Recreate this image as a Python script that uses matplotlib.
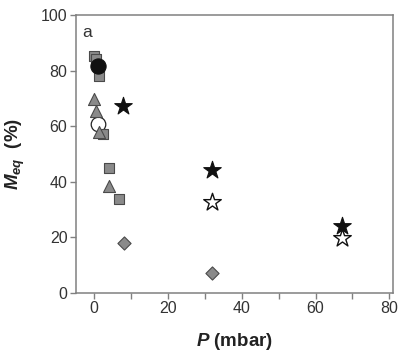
import matplotlib
matplotlib.use("Agg")
import matplotlib.pyplot as plt

plt.rcParams['font.family'] = ['Liberation Sans', 'DejaVu Sans']
plt.rcParams['mathtext.fontset'] = 'custom'
plt.rcParams['mathtext.it'] = 'Liberation Sans:italic:bold'
plt.rcParams['mathtext.rm'] = 'Liberation Sans:bold'
plt.rcParams['mathtext.bf'] = 'Liberation Sans:bold'

# Equilibrium values per series: pressure (mbar) and M_eq (%)
sq_p = [0.0, 0.5, 1.35, 2.5, 4.05, 6.75]
sq_m = [85.3, 84.1, 78.0, 57.2, 45.0, 33.8]

tri_p = [0.0, 0.5, 1.35, 4.05]
tri_m = [69.6, 65.4, 57.7, 38.3]

dot_p = [0.9]
dot_m = [81.7]

ring_p = [1.0]
ring_m = [60.6]

dia_p = [8.1, 32.0]
dia_m = [17.9, 7.0]

star_p = [7.9, 32.0, 67.1]
star_m = [67.2, 44.0, 23.9]

ostar_p = [32.0, 67.1]
ostar_m = [32.5, 19.7]

x_ticks = [0, 20, 40, 60, 80]
y_ticks = [0, 20, 40, 60, 80, 100]

fig = plt.figure(figsize=(3.99, 3.52), dpi=100)
ax = fig.add_axes([0.19, 0.1685, 0.795, 0.789])

gray = '#8a8a8a'
gedge = '#4a4a4a'

ax.scatter(sq_p, sq_m, marker='s', s=45, facecolor=gray, edgecolor=gedge, linewidth=0.8, zorder=3)
ax.scatter(tri_p, tri_m, marker='^', s=75, facecolor=gray, edgecolor=gedge, linewidth=0.8, zorder=3)
ax.scatter(ring_p, ring_m, marker='o', s=110, facecolor='white', edgecolor='#222222', linewidth=0.9, zorder=2)
ax.scatter(dot_p, dot_m, marker='o', s=120, facecolor='#111111', edgecolor='#111111', linewidth=0.8, zorder=4)
ax.scatter(dia_p, dia_m, marker='D', s=45, facecolor=gray, edgecolor=gedge, linewidth=0.8, zorder=3)
ax.scatter(ostar_p, ostar_m, marker='*', s=175, facecolor='white', edgecolor='#111111', linewidth=1.0, zorder=3)
ax.scatter(star_p, star_m, marker='*', s=175, facecolor='#111111', edgecolor='#111111', linewidth=0.8, zorder=4)

ax.set_xlim(-5, 81)
ax.set_ylim(0, 100)
ax.set_xticks(x_ticks)
ax.set_xticks([10, 30, 50, 70], minor=True)
ax.set_yticks(y_ticks)

spine_c = '#808080'
for s in ax.spines.values():
    s.set_color(spine_c)
    s.set_linewidth(1.1)

ax.tick_params(axis='both', which='both', direction='out', length=4, width=1,
               color=spine_c, labelsize=11.5, labelcolor='#333333', pad=2)

ax.set_xlabel(r'$P$ (mbar)', fontsize=13.5, fontweight='bold', color='#222222', labelpad=11)
ax.set_ylabel(r'$M_{eq}$  (%)', fontsize=13.5, fontweight='bold', color='#222222', labelpad=10)

ax.text(0.02, 0.965, 'a', transform=ax.transAxes, ha='left', va='top', fontsize=12.5, color='#333333')

fig.savefig('out.png', dpi=100)
